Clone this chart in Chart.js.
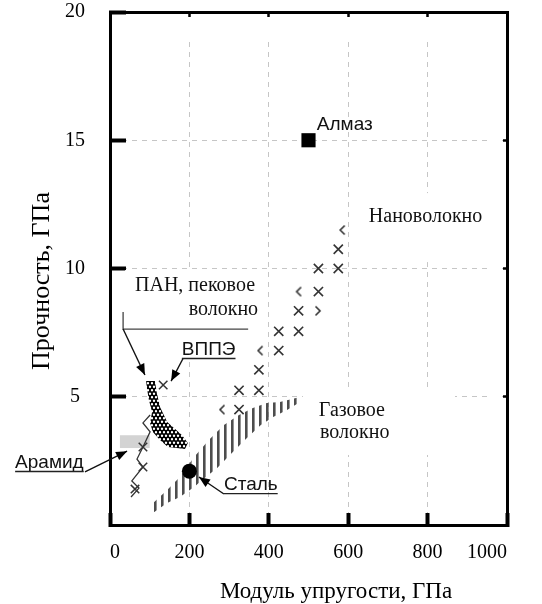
<!DOCTYPE html>
<html>
<head>
<meta charset="utf-8">
<script src="https://cdn.jsdelivr.net/npm/chart.js@4.4.1/dist/chart.umd.min.js"></script>
<style>
html,body{margin:0;padding:0;background:#fff;}
#wrap{position:relative;width:542px;height:604px;}
</style>
</head>
<body>
<div id="wrap"><canvas id="c" width="542" height="604"></canvas></div>
<script>
// ---------------- data ----------------
const modulusTicks  = [0, 200, 400, 600, 800, 1000];
const strengthTicks = [5, 10, 15, 20];
const xTitle = 'Модуль упругости, ГПа';
const yTitle = 'Прочность, ГПа';

const diamondModulus = [500];
const diamondStrength = [15];

const steelModulus = [200];
const steelStrength = [2.1];

const nanoModulus  = [575, 525, 575, 525, 475, 425, 475, 425, 375, 325, 375, 325];
const nanoStrength = [10.75, 10.0, 10.0, 9.1, 8.35, 7.55, 7.55, 6.8, 6.05, 5.25, 5.25, 4.5];
const nanoEdgeLModulus  = [585, 475, 378, 282];
const nanoEdgeLStrength = [11.5, 9.1, 6.8, 4.5];
const nanoEdgeRModulus  = [524];
const nanoEdgeRStrength = [8.35];

const panModulus  = [63, 83, 83, 134];
const panStrength = [1.40, 2.26, 3.04, 5.46];
const panZigModulus  = [53, 73, 55, 83, 68, 83, 101, 83, 101];
const panZigStrength = [1.09, 1.44, 1.72, 2.26, 2.57, 3.04, 3.63, 3.98, 4.29];

const vppeModulus  = [91, 113, 118, 126, 144, 181, 196, 189, 146, 126, 108, 101, 106, 98, 93];
const vppeStrength = [5.61, 5.61, 5.15, 4.60, 4.02, 3.51, 3.20, 2.96, 3.04, 3.31, 3.63, 3.98, 4.41, 4.87, 5.34];

const aramidModulus  = [25, 100, 100, 25];
const aramidStrength = [3.0, 3.0, 3.5, 3.5];

const gasModulus  = [106, 144, 176, 212, 249, 287, 325, 360, 395, 428, 479, 479, 446, 411, 380, 345, 307, 270, 232, 212, 176, 144, 108];
const gasStrength = [0.82, 1.36, 1.87, 2.65, 3.31, 3.90, 4.29, 4.56, 4.76, 4.80, 4.99, 4.80, 4.48, 4.21, 3.90, 3.39, 2.81, 2.22, 1.75, 1.48, 1.09, 0.86, 0.47];

// ---------------- styles / helpers ----------------
const SERIF = '"Liberation Serif", "Times New Roman", serif';
const SANS  = '"Liberation Sans", Arial, sans-serif';
const pts = (xs, ys) => xs.map((x, i) => ({x: x, y: ys[i]}));

function makeCanvas(w, h) { const c = document.createElement('canvas'); c.width = w; c.height = h; return c; }

function stripePattern() {
  const t = makeCanvas(7, 4), g = t.getContext('2d');
  g.fillStyle = '#4d4d4d'; g.fillRect(0, 0, 2.6, 4);
  return g.createPattern(t, 'repeat');
}
function honeyPattern() {
  const t = makeCanvas(4, 7), g = t.getContext('2d');
  g.fillStyle = '#fff'; g.fillRect(0, 0, 4, 7);
  g.strokeStyle = '#000'; g.lineWidth = 1.2;
  [[2, 1.75], [0, 5.25], [4, 5.25], [2, 8.75], [0, -1.75], [4, -1.75]].forEach(([cx, cy]) => {
    g.beginPath(); g.arc(cx, cy, 1.8, 0, Math.PI * 2); g.stroke();
  });
  return g.createPattern(t, 'repeat');
}
function halfCross(dir) {
  const t = makeCanvas(14, 14), g = t.getContext('2d');
  g.strokeStyle = '#333'; g.lineWidth = 1.6; g.beginPath();
  if (dir < 0) { g.moveTo(9.5, 2.5); g.lineTo(5, 7); g.lineTo(9.5, 11.5); }
  else { g.moveTo(4.5, 2.5); g.lineTo(9, 7); g.lineTo(4.5, 11.5); }
  g.stroke();
  return t;
}

// annotation layout (in axis units)
const maskBoxes = [
  {x0: 617, x1: 985, y0: 10.25, y1: 12.94},
  {x0: 486, x1: 869, y0: 2.73, y1: 5.38},
  {x0: 38,  x1: 383, y0: 6.43, y1: 9.94}
];
const texts = [
  {t: 'Алмаз', x: 521, y: 15.40, font: '19px ' + SANS},
  {t: 'Нановолокно', x: 652, y: 11.81, font: '20px ' + SERIF},
  {t: 'ПАН, пековое', x: 63, y: 9.12, font: '20px ' + SERIF},
  {t: 'волокно', x: 373, y: 8.19, font: '20px ' + SERIF, align: 'right'},
  {t: 'ВППЭ', x: 181, y: 6.63, font: '19px ' + SANS, underline: true},
  {t: 'Газовое', x: 526, y: 4.25, font: '20px ' + SERIF},
  {t: 'волокно', x: 529, y: 3.39, font: '20px ' + SERIF},
  {t: 'Арамид', x: -239, y: 2.22, font: '19px ' + SANS, underline: true},
  {t: 'Сталь', x: 287, y: 1.36, font: '19px ' + SANS, underline: true}
];
const pointers = [
  {path: [[33, 8.30], [33, 7.64], [348, 7.64]], color: '#444', width: 1.3},
  {path: [[33, 7.64], [88, 5.85]], arrow: true},
  {path: [[184, 6.49], [154, 5.61]], arrow: true},
  {path: [[-63, 2.07], [43, 2.88]], arrow: true},
  {path: [[287, 1.21], [224, 1.87]], arrow: true}
];

const decorPlugin = {
  id: 'decor',
  beforeDatasetsDraw(chart) {
    const {ctx, chartArea: a, scales: {x, y}} = chart;
    ctx.save();
    ctx.fillStyle = '#fff';
    ctx.fillRect(a.left + 3, a.top + 6, a.right - a.left - 9, 24);
    ctx.fillRect(a.right - 20, a.top + 6, 14, a.bottom - a.top - 14);
    maskBoxes.forEach(b => {
      const px0 = x.getPixelForValue(b.x0), px1 = x.getPixelForValue(b.x1);
      const py0 = y.getPixelForValue(b.y1), py1 = y.getPixelForValue(b.y0);
      ctx.fillRect(px0, py0, px1 - px0, py1 - py0);
    });
    ctx.restore();
  },
  afterDraw(chart) {
    const {ctx, scales: {x, y}} = chart;
    ctx.save();
    pointers.forEach(p => {
      const P = p.path.map(([u, v]) => [x.getPixelForValue(u), y.getPixelForValue(v)]);
      ctx.strokeStyle = p.color || '#111';
      ctx.lineWidth = p.width || 1.4;
      ctx.beginPath();
      ctx.moveTo(P[0][0], P[0][1]);
      for (let i = 1; i < P.length; i++) ctx.lineTo(P[i][0], P[i][1]);
      ctx.stroke();
      if (p.arrow) {
        const [x1, y1] = P[P.length - 2], [x2, y2] = P[P.length - 1];
        const ang = Math.atan2(y2 - y1, x2 - x1), L = 11, W = 4.5;
        ctx.fillStyle = '#000';
        ctx.beginPath();
        ctx.moveTo(x2, y2);
        ctx.lineTo(x2 - L * Math.cos(ang) + W * Math.sin(ang), y2 - L * Math.sin(ang) - W * Math.cos(ang));
        ctx.lineTo(x2 - L * Math.cos(ang) - W * Math.sin(ang), y2 - L * Math.sin(ang) + W * Math.cos(ang));
        ctx.closePath(); ctx.fill();
      }
    });
    texts.forEach(o => {
      const px = x.getPixelForValue(o.x), py = y.getPixelForValue(o.y);
      ctx.font = o.font; ctx.fillStyle = '#111';
      ctx.textAlign = o.align || 'left'; ctx.textBaseline = 'alphabetic';
      ctx.fillText(o.t, px, py);
      if (o.underline) {
        const w = ctx.measureText(o.t).width;
        const sx = o.align === 'right' ? px - w : px;
        ctx.strokeStyle = '#222'; ctx.lineWidth = 1.4;
        ctx.beginPath(); ctx.moveTo(sx, py + 3.5); ctx.lineTo(sx + w, py + 3.5); ctx.stroke();
      }
    });
    ctx.fillStyle = '#000'; ctx.textAlign = 'center'; ctx.textBaseline = 'middle';
    ctx.font = '23px ' + SERIF;
    ctx.fillText(xTitle, 336, 592);
    ctx.translate(42, 281); ctx.rotate(-Math.PI / 2);
    ctx.font = '26px ' + SERIF;
    ctx.fillText(yTitle, 0, 0);
    ctx.restore();
  }
};

const edgeColor = (edges) => (c) => (c.tick && edges.includes(c.tick.value)) ? 'rgba(0,0,0,0)' : '#c6c6c6';
const noPad = s => { s.paddingTop = 0; s.paddingBottom = 0; s.paddingLeft = 0; s.paddingRight = 0; };

new Chart(document.getElementById('c'), {
  type: 'scatter',
  data: {
    datasets: [
      {label: 'Сталь', data: pts(steelModulus, steelStrength), pointStyle: 'circle', pointRadius: 7.5,
       backgroundColor: '#000', borderColor: '#000', borderWidth: 0},
      {label: 'Алмаз', data: pts(diamondModulus, diamondStrength), pointStyle: 'rect', pointRadius: 10,
       backgroundColor: '#000', borderColor: '#000', borderWidth: 0},
      {label: 'Нановолокно', data: pts(nanoModulus, nanoStrength), pointStyle: 'crossRot', pointRadius: 6.5,
       borderColor: '#333', borderWidth: 1.6},
      {label: 'Нановолокно (край)', data: pts(nanoEdgeLModulus, nanoEdgeLStrength), pointStyle: halfCross(-1), pointRadius: 7},
      {label: 'Нановолокно (край 2)', data: pts(nanoEdgeRModulus, nanoEdgeRStrength), pointStyle: halfCross(1), pointRadius: 7},
      {label: 'ПАН, пековое волокно', data: pts(panModulus, panStrength), pointStyle: 'crossRot', pointRadius: 6,
       borderColor: '#333', borderWidth: 1.5},
      {label: 'ПАН (линия)', data: pts(panZigModulus, panZigStrength), showLine: true, pointRadius: 0,
       borderColor: '#333', borderWidth: 1.3, fill: false},
      {label: 'ВППЭ', data: pts(vppeModulus, vppeStrength), showLine: true, pointRadius: 0, fill: 'shape',
       backgroundColor: honeyPattern(), borderColor: 'rgba(0,0,0,0)', borderWidth: 0.01},
      {label: 'Арамид', data: pts(aramidModulus, aramidStrength), showLine: true, pointRadius: 0, fill: 'shape',
       backgroundColor: '#d3d3d3', borderColor: 'rgba(0,0,0,0)', borderWidth: 0.01},
      {label: 'Газовое волокно', data: pts(gasModulus, gasStrength), showLine: true, pointRadius: 0, fill: 'shape',
       backgroundColor: stripePattern(), borderColor: 'rgba(0,0,0,0)', borderWidth: 0.01}
    ]
  },
  options: {
    responsive: false,
    animation: false,
    events: [],
    layout: {padding: 0},
    plugins: {legend: {display: false}, tooltip: {enabled: false}},
    scales: {
      x: {
        type: 'linear', position: 'bottom', min: 0, max: 1000,
        afterBuildTicks: s => { s.ticks = modulusTicks.map(v => ({value: v})); },
        afterFit: s => { s.height = 79; noPad(s); },
        ticks: {callback: v => String(v), font: {family: SERIF, size: 20}, color: '#000', padding: 28,
                maxRotation: 0, autoSkip: false, align: 'inner'},
        grid: {color: edgeColor([0, 1000]), lineWidth: 1, tickLength: -12, tickWidth: 4, tickColor: '#000'},
        border: {display: true, color: '#000', width: 3, dash: [5, 5]}
      },
      x2: {
        type: 'linear', position: 'top', min: 0, max: 1000,
        afterBuildTicks: s => { s.ticks = modulusTicks.map(v => ({value: v})); },
        afterFit: s => { s.height = 12; noPad(s); },
        ticks: {display: false},
        grid: {drawOnChartArea: false, tickLength: -5, tickWidth: 2.5, tickColor: '#000'},
        border: {display: true, color: '#000', width: 3}
      },
      y: {
        type: 'linear', position: 'left', min: 0, max: 20,
        afterBuildTicks: s => { s.ticks = strengthTicks.map(v => ({value: v})); },
        afterFit: s => { s.width = 110; noPad(s); },
        ticks: {callback: v => String(v), font: {family: SERIF, size: 20}, color: '#000', padding: 41, crossAlign: 'center'},
        grid: {color: edgeColor([0, 20]), lineWidth: 1, tickLength: -16, tickWidth: 4, tickColor: '#000'},
        border: {display: true, color: '#000', width: 3, dash: [5, 5]}
      },
      y2: {
        type: 'linear', position: 'right', min: 0, max: 20,
        afterBuildTicks: s => { s.ticks = strengthTicks.map(v => ({value: v})); },
        afterFit: s => { s.width = 35; noPad(s); },
        ticks: {display: false},
        grid: {drawOnChartArea: false, tickLength: -4, tickWidth: 2.5, tickColor: '#000'},
        border: {display: true, color: '#000', width: 3}
      }
    }
  },
  plugins: [decorPlugin]
});
</script>
</body>
</html>
